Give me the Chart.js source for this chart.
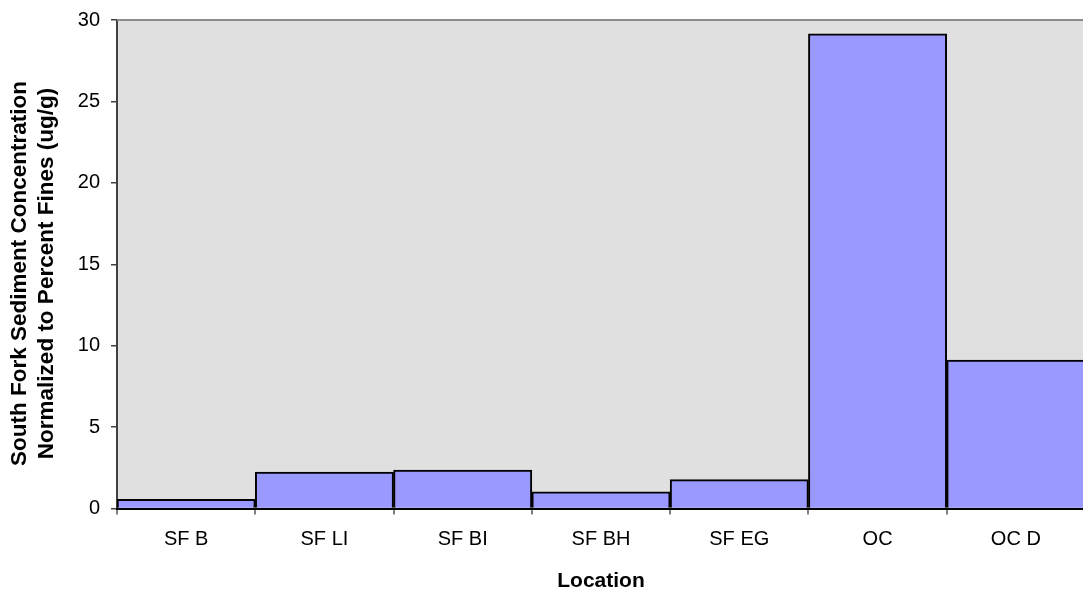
<!DOCTYPE html>
<html>
<head>
<meta charset="utf-8">
<script src="https://cdn.jsdelivr.net/npm/chart.js@4/dist/chart.umd.min.js"></script>
<style>
  html, body { margin: 0; padding: 0; background: #ffffff; overflow: hidden; }
  #wrap { width: 1083px; height: 597px; overflow: hidden; }
  canvas { display: block; }
</style>
</head>
<body>
<div id="wrap"><canvas id="chart" width="1085" height="597"></canvas></div>
<script>
// Sampling locations along the South Fork and the comparison sites
const locations = ['SF B', 'SF LI', 'SF BI', 'SF BH', 'SF EG', 'OC', 'OC D'];
// Sediment concentration normalized to percent fines (ug/g)
const concentrations = [0.56, 2.24, 2.36, 1.03, 1.77, 29.15, 9.11];
// Value axis ticks
const yTicks = [0, 5, 10, 15, 20, 25, 30];
// Two-line value axis title
const yTitleLines = ['South Fork Sediment Concentration', 'Normalized to Percent Fines (ug/g)'];

const FONT = 'Arial, "Liberation Sans", sans-serif';

// Gray plot background, light frame line along the top, and the value axis title
const plotFrame = {
  id: 'plotFrame',
  beforeDraw(chart) {
    const { ctx, chartArea: a } = chart;
    ctx.save();
    ctx.fillStyle = '#e0e0e0';
    ctx.fillRect(a.left, a.top, a.right - a.left, a.bottom - a.top);
    ctx.restore();
  },
  afterDraw(chart) {
    const { ctx, chartArea: a } = chart;
    ctx.save();
    ctx.strokeStyle = '#8c8c8c';
    ctx.lineWidth = 2;
    ctx.beginPath();
    ctx.moveTo(a.left, a.top);
    ctx.lineTo(a.right, a.top);
    ctx.stroke();
    ctx.restore();

    // value axis title, rotated to read bottom-to-top
    ctx.save();
    ctx.translate(0, 273.5);
    ctx.rotate(-Math.PI / 2);
    ctx.fillStyle = '#000000';
    ctx.font = 'bold 22.5px ' + FONT;
    ctx.textAlign = 'center';
    ctx.textBaseline = 'middle';
    yTitleLines.forEach((line, i) => ctx.fillText(line, 0, 20 + i * 26.7));
    ctx.restore();
  }
};

new Chart(document.getElementById('chart'), {
  type: 'bar',
  data: {
    labels: locations,
    datasets: [{
      data: concentrations,
      backgroundColor: '#9999ff',
      borderColor: '#000000',
      borderWidth: 2,
      borderSkipped: 'start',
      barPercentage: 1,
      categoryPercentage: 1
    }]
  },
  options: {
    responsive: false,
    animation: false,
    layout: { padding: { top: 20, right: 0, left: 0, bottom: 0 } },
    plugins: {
      legend: { display: false },
      tooltip: { enabled: false }
    },
    scales: {
      x: {
        grid: {
          display: true,
          offset: true,
          drawOnChartArea: false,
          tickLength: 6,
          color: '#808080',
          lineWidth: 2
        },
        border: { display: true, color: '#000000', width: 2, z: 1 },
        ticks: {
          color: '#000000',
          padding: 13,
          maxRotation: 0,
          autoSkip: false,
          font: { family: FONT, size: 20 }
        },
        title: {
          display: true,
          text: 'Location',
          color: '#000000',
          font: { family: FONT, size: 21, weight: 'bold' },
          padding: { top: 0, bottom: 3 }
        },
        afterFit(scale) { scale.height = 88.5; }
      },
      y: {
        min: 0,
        max: 30,
        afterBuildTicks(scale) { scale.ticks = yTicks.map(v => ({ value: v })); },
        grid: {
          display: true,
          drawOnChartArea: false,
          tickLength: 6,
          color: '#404040',
          lineWidth: 1.5
        },
        border: { display: true, color: '#404040', width: 2 },
        ticks: {
          color: '#000000',
          padding: 11,
          font: { family: FONT, size: 20, lineHeight: 0.8 }
        },
        title: { display: false },
        afterFit(scale) { scale.width = 117; }
      }
    }
  },
  plugins: [plotFrame]
});
</script>
</body>
</html>
